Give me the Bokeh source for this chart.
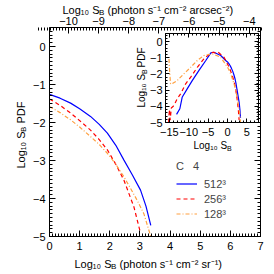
import numpy as np
from bokeh.plotting import figure
from bokeh.models import Range1d, LinearAxis, FixedTicker, Label, Legend, LegendItem
from bokeh.embed import file_html
from bokeh.resources import INLINE

# ---------------- data: log10 S_B (photon s^-1 cm^-2 sr^-1) vs log10 PDF ----------------
sb_512 = [-13.15, -12.3, -11.7, -10.4, -9.1, -7.4, -5.6, -4.3, -3.5, -1.75, -0.46,
          0.0, 0.35, 0.7, 1.0, 1.36, 1.65, 1.92, 2.2, 2.47, 2.75, 3.02, 3.2, 3.36]
pdf_512 = [-4.5, -4.15, -3.44, -2.92, -2.41, -1.79, -1.17, -0.70, -0.66, -0.86, -1.17,
           -1.26, -1.36, -1.49, -1.64, -1.84, -2.05, -2.28, -2.6, -2.99, -3.38, -3.78, -4.2, -4.71]

sb_256 = [-15.2, -15.0, -14.8, -14.5, -13.8, -13.0, -12.1, -10.8, -9.5, -7.8, -6.1, -4.3,
          -3.6, -3.05, -2.4, -0.9, 0.0, 0.35, 0.7, 1.0, 1.36, 1.65, 1.92, 2.2, 2.47, 2.8, 3.0]
pdf_256 = [-5.0, -4.2, -4.85, -4.1, -3.95, -3.54, -3.23, -2.61, -2.2, -1.59, -1.07, -0.70,
           -0.66, -0.72, -0.66, -0.97, -1.38, -1.55, -1.75, -1.95, -2.2, -2.45, -2.72, -3.1,
           -3.52, -4.22, -4.85]

sb_128 = [-15.1, -14.95, -14.7, -14.4, -13.0, -11.3, -9.5, -7.8, -6.1, -3.9, -1.75,
          0.0, 0.35, 0.7, 1.0, 1.36, 1.65, 1.92, 2.2, 2.47, 2.7, 2.91, 3.13, 3.36]
pdf_128 = [-1.07, -1.8, -2.61, -2.62, -2.41, -2.0, -1.59, -1.17, -0.86, -0.76, -0.97,
           -1.58, -1.74, -1.93, -2.12, -2.37, -2.58, -2.81, -3.1, -3.43, -3.75, -4.05, -4.4, -5.0]

series_labels = ["512³", "256³", "128³"]
legend_title = "C   4"

x_ticks = [0, 1, 2, 3, 4, 5, 6, 7]
x_tick_labels = ["0", "1", "2", "3", "4", "5", "6", "7"]
y_ticks = [-5, -4, -3, -2, -1, 0]
y_tick_labels = ["−5", "−4", "−3", "−2", "−1", "0"]
top_ticks = [-10, -9, -8, -7, -6, -5, -4]
top_tick_labels = ["−10", "−9", "−8", "−7", "−6", "−5", "−4"]
inset_x_ticks = [-15, -10, -5, 0, 5]
inset_x_tick_labels = ["−15", "−10", "−5", "0", "5"]
inset_y_ticks = [-5, -4, -3, -2, -1, 0]
inset_y_tick_labels = ["−5", "−4", "−3", "−2", "−1", "0"]

# log10 of arcsec^2 per steradian (unit conversion for the top axis)
LOG_ARCSEC2_PER_SR = np.log10((180.0 / np.pi * 3600.0) ** 2)

# ---------------- layout / style ----------------
FONT = "Liberation Sans"
W, H = 274, 274
X0, X1 = 0, 7
Y0, Y1 = -5, 0.5
FL, FT, FR, FB = 49, 27, 260, 236        # main box on canvas (px)
IL, IT, IR, IB = 165, 33, 258, 122       # inset box on canvas (px)
IX0, IX1, IY0, IY1 = -16, 8, -5, 0.5

colors = ["#0000ff", "#ff0000", "#ffa040"]
dashes = ["solid", "4 3", "4 2 1 2"]


def dx(px):
    return X0 + (px - FL) * (X1 - X0) / (FR - FL)


def dy(py):
    return Y1 - (py - FT) * (Y1 - Y0) / (FB - FT)


p = figure(frame_width=W, frame_height=H, min_border=0,
           x_range=Range1d(dx(0), dx(W)), y_range=Range1d(dy(H), dy(0)),
           x_axis_location=None, y_axis_location=None,
           output_backend="svg", toolbar_location=None, tools="")
p.xgrid.grid_line_color = None
p.ygrid.grid_line_color = None
p.outline_line_color = None
p.background_fill_color = "white"
p.border_fill_color = "white"

sx = (IR - IL) / (IX1 - IX0)
sy = (IB - IT) / (IY1 - IY0)
p.extra_x_ranges = {
    "top": Range1d(dx(0) - LOG_ARCSEC2_PER_SR, dx(W) - LOG_ARCSEC2_PER_SR),
    "ix": Range1d(IX0 - IL / sx, IX1 + (W - IR) / sx),
}
p.extra_y_ranges = {
    "iy": Range1d(IY0 - (H - IB) / sy, IY1 + IT / sy),
}


def base_axis(ticker, **kw):
    ax = LinearAxis(ticker=ticker, **kw)
    ax.major_tick_out = 0
    ax.minor_tick_out = 0
    ax.axis_line_color = "black"
    ax.major_tick_line_color = "black"
    ax.minor_tick_line_color = "black"
    ax.axis_line_width = 1
    return ax


def labelled_axis(side, ticks, minor, labels, major_len, minor_len, standoff, **kw):
    ax = base_axis(FixedTicker(ticks=ticks, minor_ticks=list(np.round(minor, 4))), **kw)
    ax.major_tick_in = major_len
    ax.minor_tick_in = minor_len
    ax.major_label_overrides = {t: l for t, l in zip(ticks, labels)}
    ax.major_label_text_font = FONT
    ax.major_label_text_font_size = "11px"
    ax.major_label_text_color = "black"
    ax.major_label_standoff = standoff
    p.add_layout(ax, side)


def bare_axis(side, ticks, minor, major_len, minor_len, **kw):
    # tick marks only (no labels): long ticks and short ticks drawn as two tick-only axes
    for pos, length in ((list(np.round(minor, 4)), minor_len), (list(ticks), major_len)):
        ax = base_axis(FixedTicker(ticks=[], minor_ticks=pos), **kw)
        ax.minor_tick_in = length
        p.add_layout(ax, side)


# main box axes
labelled_axis("below", x_ticks, np.arange(0, 7.001, 0.1), x_tick_labels, 6, 3, 5,
              fixed_location=Y0, bounds=(X0, X1))
labelled_axis("above", top_ticks, np.arange(-11, -3.5, 0.1), top_tick_labels, 6, 3, 3,
              x_range_name="top", fixed_location=Y1,
              bounds=(X0 - LOG_ARCSEC2_PER_SR, X1 - LOG_ARCSEC2_PER_SR))
labelled_axis("left", y_ticks, np.arange(-5, 0.501, 0.1), y_tick_labels, 6, 3, 4,
              fixed_location=X0, bounds=(Y0, Y1))
bare_axis("right", y_ticks, np.arange(-5, 0.501, 0.1), 6, 3, fixed_location=X1, bounds=(Y0, Y1))

# inset axes
ikw = dict(x_range_name="ix", y_range_name="iy")
labelled_axis("below", inset_x_ticks, np.arange(-16, 8.01, 1), inset_x_tick_labels, 4, 2, 5,
              fixed_location=IY0, bounds=(IX0, IX1), **ikw)
bare_axis("above", inset_x_ticks, np.arange(-16, 8.01, 1), 4, 2,
          fixed_location=IY1, bounds=(IX0, IX1), **ikw)
labelled_axis("left", inset_y_ticks, np.arange(-5, 0.501, 0.2), inset_y_tick_labels, 4, 2, 3,
              fixed_location=IX0, bounds=(IY0, IY1), **ikw)
bare_axis("right", inset_y_ticks, np.arange(-5, 0.501, 0.2), 4, 2,
          fixed_location=IX1, bounds=(IY0, IY1), **ikw)

# curves: main panel (x >= 0 part shown in the box) and full curves in the inset
renderers = []
for sb, pdf, c, d in [(sb_512, pdf_512, colors[0], dashes[0]),
                      (sb_256, pdf_256, colors[1], dashes[1]),
                      (sb_128, pdf_128, colors[2], dashes[2])]:
    keep = [i for i, v in enumerate(sb) if X0 <= v <= X1]
    r = p.line([sb[i] for i in keep], [pdf[i] for i in keep],
               line_color=c, line_dash=d, line_width=1.2)
    renderers.append(r)
    p.line(sb, pdf, line_color=c, line_dash=d, line_width=1.2,
           x_range_name="ix", y_range_name="iy")

legend = Legend(items=[LegendItem(label=l, renderers=[r]) for l, r in zip(series_labels, renderers)],
                location=(176, H - 221), title=legend_title,
                border_line_color=None, background_fill_alpha=0, padding=0, margin=0, spacing=0,
                glyph_width=21, glyph_height=15, label_height=15, label_standoff=7,
                label_text_font=FONT, label_text_font_size="11px",
                title_text_font=FONT, title_text_font_size="11px", title_text_font_style="normal",
                title_standoff=4)
p.add_layout(legend)


def title(px, py, rest, vertical=False, big=True):
    if big:
        pieces = [("Log₁₀ S", 0, 0, "11px"), ("B", 36.5, 3, "8px"), (rest, 45, 0, "11px")]
    else:
        pieces = [("Log₁₀ S", 0, 0, "10px"), ("B", 33.5, 3, "7px"), (rest, 40, 0, "10px")]
    for text, along, perp, size in pieces:
        if not text:
            continue
        if vertical:
            x, y, ang = px + perp, py - along, np.pi / 2
        else:
            x, y, ang = px + along, py + perp, 0
        p.add_layout(Label(x=dx(x), y=dy(y), text=text, angle=ang, text_font=FONT,
                           text_font_size=size, text_color="black",
                           text_align="left", text_baseline="middle"))


title(74, 263, "(photon s⁻¹ cm⁻² sr⁻¹)")
title(62, 9, "(photon s⁻¹ cm⁻² arcsec⁻²)")
title(20, 168, "PDF", vertical=True)
title(141, 107, "PDF", vertical=True, big=False)
title(193, 145, "", big=False)

open("out.html", "w").write(file_html(p, INLINE))
